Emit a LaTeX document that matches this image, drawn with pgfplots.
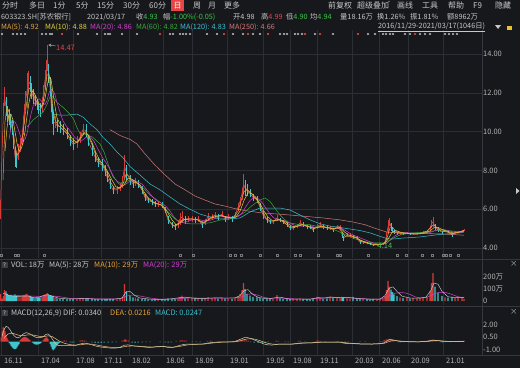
\documentclass[border=0pt]{standalone}
\usepackage{pgfplots}
\pgfplotsset{compat=1.18}
\usepackage{pgfplotstable}
\usepackage{fontspec}
\setmainfont{Noto Sans CJK SC}
\definecolor{bg}{HTML}{17181C}
\definecolor{gridc}{HTML}{2B2E34}
\definecolor{sepc}{HTML}{34373D}
\definecolor{txt}{HTML}{C8C8C8}
\definecolor{axtxt}{HTML}{B4B4B4}
\definecolor{upred}{HTML}{E84646}
\definecolor{dngreen}{HTML}{3CC84A}
\definecolor{cRed}{HTML}{D83A3A}
\definecolor{cCyan}{HTML}{3FC6CC}
\definecolor{ma5}{HTML}{E8A23A}
\definecolor{ma10}{HTML}{E2D03C}
\definecolor{ma20}{HTML}{D040D0}
\definecolor{ma60}{HTML}{3AA83A}
\definecolor{ma120}{HTML}{3CC0D0}
\definecolor{ma250}{HTML}{D27A7A}
\definecolor{qbg}{HTML}{3A3D44}

\pgfplotsset{
  upc/.style={restrict expr to domain={\thisrow{d}}{-0.5:0.5}},
  dnc/.style={restrict expr to domain={\thisrow{d}}{0.5:1.5}},
  panel/.style={scale only axis, width=482bp, xmin=0, xmax=482,
    axis line style={draw=none}, major tick length=0pt,
    xmajorgrids=true, ymajorgrids=false,
    major grid style={draw=gridc, line width=0.5bp},
    xtick={1,38,73,101,129,163,192,227,263,290,317,352,379,408,443},
    xticklabels={},
    yticklabel pos=right,
    yticklabel style={anchor=west, inner sep=0pt, xshift=1bp, text=axtxt},
    tick label style={font=\fontsize{7.5}{9}\selectfont},
    clip=true}
}

\pgfplotstableread{
x c r d v
0.5 6.0 0.5 0 60
1.5 8.0 0.2 0 20
2.5 9.6 0.2 0 20
3.5 11.2 0.3 0 40
4.5 11.8 0.5 0 90
6 11.3 0.5 1 80
7.5 10.9 0.4 1 60
9 10.75 0.4 1 50
10.5 10.5 0.4 1 45
12 10.2 0.4 1 40
13.5 9.5 0.4 1 45
15 8.7 0.5 1 55
16.5 8.5 0.4 1 45
18 8.95 0.4 0 35
20 9.3 0.35 0 30
22 9.7 0.4 0 35
23 10.3 0.5 0 45
24 10.9 0.5 0 50
25.5 11.6 0.5 0 55
27 12.1 0.9 0 60
28.5 12.6 0.5 0 45
30 12.45 0.4 1 40
31.5 12.1 0.4 1 35
33 11.8 0.4 1 30
35 11.6 0.3 1 25
37 11.4 0.3 1 25
38.5 11.2 0.3 1 25
40 11.1 0.35 1 30
42 11.4 0.4 0 35
43.5 12.0 0.4 0 45
45 12.65 0.5 0 55
46.5 13.2 0.5 0 60
47.5 13.8 0.67 0 65
48.5 13.0 0.5 1 55
50 12.3 0.5 1 50
51 11.5 0.5 1 45
52 10.9 0.5 1 40
53 10.4 0.6 1 40
55 10.5 0.3 0 25
57 10.3 0.3 1 22
60 10.25 0.3 1 20
63 10.1 0.3 1 18
67 9.9 0.3 1 17
70 9.55 0.3 1 16
73 9.36 0.3 1 17
77 9.45 0.3 0 18
80 9.7 0.3 0 20
83 10.1 0.3 0 25
86 10.06 0.35 1 22
88 9.55 0.3 1 18
92 9.05 0.3 1 16
95 8.7 0.25 1 15
98 8.4 0.25 1 15
102 8.27 0.3 1 14
105 8.0 0.3 1 15
107 7.66 0.25 1 16
110 7.3 0.25 1 18
113 7.0 0.2 1 15
117 7.0 0.2 0 14
120 7.15 0.2 0 18
122.5 7.4 0.3 0 30
124.5 8.2 0.6 0 140
126.5 7.9 0.4 1 80
130 7.5 0.25 1 40
133 7.3 0.2 1 30
135.5 7.4 0.2 0 28
138 7.3 0.2 1 22
142 7.0 0.2 1 18
145 6.6 0.2 1 16
148 6.45 0.15 1 14
152 6.37 0.15 1 13
155 6.27 0.15 1 12
158 6.27 0.15 0 12
162 6.2 0.15 1 13
165 5.95 0.15 1 15
168 5.44 0.2 1 22
172 5.2 0.15 1 18
175 5.1 0.15 1 15
178 5.25 0.2 0 20
180 5.5 0.3 0 35
182 5.6 0.3 0 45
185 5.44 0.2 1 28
188 5.5 0.15 0 25
192 5.5 0.15 0 25
195 5.44 0.15 1 20
198 5.5 0.15 0 20
202 5.2 0.15 1 18
205 5.34 0.15 0 22
208 5.6 0.2 0 32
212 5.6 0.15 0 25
215 5.7 0.15 0 25
218 5.6 0.15 1 20
222 5.75 0.15 0 28
225 5.5 0.15 1 22
228 5.6 0.15 0 22
232 5.5 0.15 1 20
235 5.7 0.15 0 25
238 6.1 0.2 0 40
240 6.4 0.25 0 60
242 6.8 0.3 0 90
243.5 7.3 0.5 0 150
245 7.1 0.4 1 100
247 7.0 0.3 1 60
250 6.83 0.2 1 45
253 6.6 0.2 1 35
257 6.5 0.2 1 30
260 6.1 0.2 1 25
263 5.7 0.2 1 22
267 5.44 0.15 1 20
270 5.34 0.12 1 16
273 5.34 0.12 0 15
277 5.55 0.15 0 50
280 5.44 0.12 1 25
283 5.34 0.12 1 18
287 5.2 0.12 1 15
290 5.03 0.12 1 15
293 5.03 0.1 0 13
297 5.13 0.1 0 15
300 5.29 0.15 0 22
303 5.2 0.12 1 18
307 5.1 0.1 1 15
310 5.08 0.1 1 14
313 4.93 0.1 1 15
317 5.1 0.12 0 35
320 5.2 0.12 0 28
323 5.1 0.1 1 20
327 5.03 0.1 1 22
330 5.03 0.1 0 38
333 4.93 0.1 1 28
337 5.1 0.1 0 25
340 5.1 0.1 0 28
342 4.67 0.15 1 35
343.5 4.5 0.12 1 30
347 4.67 0.12 0 22
350 4.67 0.1 0 20
353 4.57 0.1 1 35
357 4.5 0.1 1 20
360 4.3 0.1 1 18
363 4.3 0.08 0 15
367 4.26 0.07 1 15
370 4.2 0.07 1 14
373 4.15 0.06 1 15
377 4.16 0.05 0 14
380 4.18 0.05 0 15
383 4.22 0.06 0 20
385 4.3 0.1 0 40
386.5 4.6 0.2 0 90
388 5.1 0.35 0 168
389.5 5.35 0.2 0 120
391 5.1 0.2 1 95
392.5 4.95 0.15 1 75
394 4.82 0.1 1 55
397 4.77 0.08 1 40
400 4.77 0.08 0 30
403 4.72 0.06 1 25
407 4.77 0.07 0 30
410 4.72 0.06 1 22
413 4.72 0.06 0 25
417 4.72 0.06 0 22
420 4.77 0.06 0 25
423 4.82 0.07 0 30
427 4.87 0.08 0 35
430 5.03 0.12 0 80
431.5 5.25 0.2 0 150
433 5.34 0.25 0 233
435 5.1 0.15 1 120
438 4.93 0.1 1 70
442 4.82 0.08 1 40
445 4.87 0.07 0 30
448 4.82 0.07 1 28
452 4.67 0.1 1 35
455 4.82 0.07 0 25
458 4.82 0.06 0 30
462 4.87 0.06 0 28
464 4.93 0.05 0 18
}\pricetab

\newcommand{\T}[4]{\node[anchor=west,text=#3,inner sep=0pt] at (#1bp,-#2bp) {#4};}

\begin{document}
\fontsize{7.5}{9}\selectfont
\begin{tikzpicture}
\useasboundingbox (0bp,0bp) rectangle (520bp,-368bp);
\fill[bg] (0bp,0bp) rectangle (520bp,-368bp);

% ---------- main price panel ----------
\begin{axis}[panel, at={(0bp,-30bp)}, anchor=north west, height=228bp,
  ymin=3.485, ymax=15.237, ymajorgrids=true,
  ytick={4,6,8,10,12,14}, yticklabels={4.00,6.00,8.00,10.00,12.00,14.00}]
\addplot[cRed!80!white, line width=0.5bp, mark=none] table[x=x, y=c] {\pricetab};
\addplot[draw=cRed, line width=1bp, mark=none, upc, quiver={u=0, v=2*\thisrow{r}}] table[x=x, y expr=\thisrow{c}-\thisrow{r}] {\pricetab};
\addplot[draw=cCyan, line width=1bp, mark=none, dnc, quiver={u=0, v=2*\thisrow{r}}] table[x=x, y expr=\thisrow{c}-\thisrow{r}] {\pricetab};
% MA250
\addplot[ma250, line width=0.5bp, mark=none] coordinates {(110,10.1)(115,9.95)(120,9.8)(125,9.7)(130,9.6)(137,9.36)(145,8.85)(155,8.27)(165,7.77)(175,7.3)(185,7.0)(195,6.68)(205,6.47)(215,6.27)(225,6.16)(235,6.03)(245,5.93)(260,5.82)(290,5.7)(323,5.55)(340,5.45)(353,5.34)(365,5.2)(377,4.98)(387,4.82)(400,4.78)(410,4.77)(443,4.72)(464,4.66)};
% MA120
\addplot[ma120, line width=0.5bp, mark=none] coordinates {(53,10.9)(60,10.85)(67,10.85)(77,10.9)(83,10.75)(90,10.4)(97,10.1)(103,9.7)(110,9.36)(117,8.95)(123,8.65)(130,8.2)(140,7.76)(150,7.3)(160,7.0)(170,6.63)(180,6.27)(190,6.0)(200,5.75)(210,5.6)(220,5.5)(230,5.5)(240,5.55)(245,5.7)(250,5.86)(260,6.06)(280,6.06)(290,5.96)(300,5.7)(310,5.45)(320,5.25)(330,5.13)(340,5.06)(350,4.98)(360,4.9)(370,4.78)(380,4.6)(388,4.47)(395,4.47)(400,4.5)(420,4.57)(440,4.7)(460,4.78)(464,4.83)};
% MA60
\addplot[ma60, line width=0.5bp, mark=none] coordinates {(27,10.25)(30,10.4)(33,10.6)(38,10.8)(43,11.0)(47,11.4)(50,11.8)(53,11.8)(57,11.5)(63,11.25)(70,10.9)(74,10.6)(77,10.2)(80,9.9)(87,9.85)(93,9.7)(100,9.36)(104,8.95)(107,8.5)(110,8.05)(113,7.67)(117,7.45)(120,7.35)(125,7.4)(130,7.5)(135,7.4)(140,7.25)(145,7.0)(150,6.73)(155,6.55)(160,6.37)(165,6.05)(170,5.75)(175,5.5)(180,5.34)(185,5.28)(190,5.25)(200,5.25)(210,5.3)(220,5.44)(230,5.5)(240,5.7)(245,5.85)(250,6.1)(255,6.3)(260,6.47)(265,6.58)(270,6.4)(275,6.05)(280,5.7)(285,5.45)(290,5.29)(300,5.2)(310,5.2)(320,5.08)(330,5.03)(340,4.82)(345,4.7)(350,4.57)(355,4.47)(360,4.4)(365,4.33)(373,4.26)(383,4.26)(390,4.4)(395,4.55)(400,4.67)(410,4.77)(427,4.82)(440,4.93)(453,4.87)(464,4.82)};
% MA20
\addplot[ma20, line width=0.5bp, mark=none] coordinates {(9,9.6)(11,10.2)(13,10.5)(15,10.5)(17,10.3)(19,10.0)(21,9.7)(23,9.5)(25,9.6)(27,9.9)(29,10.4)(31,10.9)(33,11.3)(35,11.5)(37,11.6)(39,11.7)(41,11.6)(43,11.45)(45,11.4)(47,11.6)(49,12.0)(51,12.2)(53,12.1)(55,11.9)(57,11.5)(60,11.0)(63,10.55)(66,10.3)(70,10.05)(74,9.75)(78,9.55)(82,9.55)(86,9.7)(90,9.75)(94,9.5)(98,9.1)(102,8.7)(106,8.4)(110,8.05)(114,7.65)(118,7.35)(122,7.2)(126,7.3)(130,7.45)(134,7.5)(138,7.4)(142,7.3)(146,7.05)(150,6.8)(154,6.55)(158,6.4)(162,6.3)(166,6.15)(170,5.9)(174,5.6)(178,5.38)(182,5.32)(186,5.35)(190,5.42)(194,5.47)(198,5.47)(202,5.43)(206,5.4)(210,5.43)(214,5.5)(218,5.58)(222,5.62)(226,5.62)(230,5.6)(234,5.58)(238,5.62)(242,5.8)(246,6.15)(250,6.45)(254,6.6)(258,6.55)(262,6.35)(266,6.05)(270,5.75)(274,5.55)(278,5.45)(282,5.43)(286,5.38)(290,5.28)(294,5.18)(298,5.13)(302,5.13)(306,5.15)(310,5.13)(314,5.08)(318,5.06)(322,5.07)(326,5.07)(330,5.05)(334,5.03)(338,5.02)(342,5.0)(346,4.88)(350,4.75)(354,4.65)(358,4.57)(362,4.48)(366,4.4)(370,4.32)(374,4.25)(378,4.21)(382,4.2)(386,4.23)(390,4.4)(394,4.6)(398,4.72)(402,4.78)(406,4.79)(410,4.77)(415,4.75)(420,4.74)(425,4.75)(430,4.8)(435,4.9)(440,4.97)(444,4.95)(448,4.9)(452,4.84)(456,4.8)(460,4.8)(464,4.86)};
% MA10
\addplot[ma10, line width=0.5bp, mark=none] coordinates {(5,9.0)(7,10.2)(9,10.9)(11,10.9)(13,10.6)(15,10.0)(17,9.4)(19,9.0)(21,9.1)(23,9.4)(25,10.0)(27,10.8)(29,11.5)(31,12.0)(33,12.1)(35,11.9)(37,11.7)(39,11.45)(41,11.3)(43,11.35)(45,11.7)(47,12.3)(49,12.8)(51,12.7)(53,12.0)(55,11.3)(57,10.7)(60,10.4)(64,10.2)(68,9.95)(72,9.65)(76,9.45)(80,9.6)(84,9.9)(88,9.85)(92,9.45)(96,8.9)(100,8.5)(104,8.25)(108,7.9)(112,7.5)(116,7.15)(120,7.1)(124,7.25)(128,7.6)(132,7.55)(136,7.4)(140,7.25)(144,6.9)(148,6.6)(152,6.42)(156,6.3)(160,6.25)(164,6.1)(168,5.8)(172,5.45)(176,5.2)(180,5.3)(184,5.45)(188,5.48)(192,5.5)(196,5.48)(200,5.4)(204,5.33)(208,5.45)(212,5.55)(216,5.63)(220,5.66)(224,5.64)(228,5.58)(232,5.56)(236,5.6)(240,5.9)(244,6.45)(248,6.85)(252,6.8)(256,6.6)(260,6.3)(264,5.9)(268,5.6)(272,5.42)(276,5.42)(280,5.45)(284,5.4)(288,5.25)(292,5.12)(296,5.1)(300,5.17)(304,5.18)(308,5.12)(312,5.05)(316,5.04)(320,5.1)(324,5.1)(328,5.05)(332,5.0)(336,5.02)(340,5.05)(344,4.85)(348,4.68)(352,4.62)(356,4.55)(360,4.42)(364,4.33)(368,4.27)(372,4.21)(376,4.18)(380,4.18)(384,4.21)(388,4.45)(392,4.8)(396,4.9)(400,4.82)(405,4.77)(410,4.75)(415,4.73)(420,4.73)(425,4.78)(430,4.88)(434,5.05)(438,5.07)(442,4.95)(446,4.88)(450,4.82)(454,4.77)(458,4.8)(464,4.88)};
% MA5
\addplot[ma5, line width=0.5bp, mark=none] coordinates {(3,7.5)(5,10.5)(7,11.3)(9,11.0)(11,10.6)(13,10.1)(15,9.3)(17,8.8)(19,8.9)(21,9.3)(23,9.9)(25,10.8)(27,11.6)(29,12.2)(31,12.3)(33,12.0)(35,11.7)(37,11.5)(39,11.3)(41,11.2)(43,11.5)(45,12.1)(47,12.9)(49,13.0)(51,12.3)(53,11.2)(55,10.6)(58,10.35)(62,10.15)(66,9.95)(70,9.65)(74,9.4)(78,9.45)(82,9.85)(86,10.0)(89,9.7)(93,9.2)(97,8.6)(101,8.35)(105,8.1)(108,7.75)(111,7.35)(115,7.05)(119,7.05)(123,7.3)(126,7.8)(129,7.7)(133,7.4)(137,7.35)(141,7.1)(145,6.7)(149,6.5)(153,6.35)(157,6.28)(161,6.22)(164,6.05)(167,5.7)(170,5.35)(174,5.15)(178,5.2)(182,5.45)(186,5.5)(190,5.5)(194,5.47)(198,5.45)(202,5.3)(206,5.35)(210,5.55)(214,5.65)(218,5.65)(222,5.68)(226,5.58)(230,5.55)(234,5.6)(238,5.9)(241,6.4)(244,6.9)(247,7.0)(250,6.9)(254,6.65)(258,6.4)(262,5.95)(266,5.55)(270,5.38)(274,5.38)(278,5.48)(282,5.4)(286,5.25)(290,5.08)(294,5.05)(298,5.15)(302,5.22)(306,5.13)(310,5.07)(314,5.0)(318,5.08)(322,5.13)(326,5.06)(330,5.03)(334,4.98)(338,5.06)(342,4.85)(345,4.6)(349,4.62)(353,4.6)(357,4.5)(361,4.35)(365,4.28)(370,4.22)(375,4.17)(380,4.18)(384,4.24)(387,4.5)(390,5.05)(393,5.05)(396,4.85)(400,4.78)(405,4.75)(410,4.74)(415,4.72)(420,4.75)(424,4.8)(428,4.9)(431,5.1)(434,5.2)(437,5.05)(441,4.88)(445,4.85)(449,4.8)(453,4.73)(457,4.8)(461,4.85)(464,4.92)};
% info markers
\addplot[only marks, mark=asterisk, mark size=1.2bp, line width=0.4bp, color=axtxt] coordinates {(2,15.03)(13,15.03)(17,15.03)(21,15.03)(25,15.03)(42,15.03)(46,15.03)(50,15.03)(52,15.03)(78,15.03)(97,15.03)(105,15.03)(108,15.03)(110,15.03)(122,15.03)(137,15.03)(170,15.03)(173,15.03)(180,15.03)(183,15.03)(186,15.03)(190,15.03)(207,15.03)(217,15.03)(233,15.03)(243,15.03)(253,15.03)(260,15.03)(280,15.03)(284,15.03)(287,15.03)(295,15.03)(298,15.03)(302,15.03)(315,15.03)(333,15.03)(368,15.03)(375,15.03)(383,15.03)(386,15.03)(390,15.03)(393,15.03)(405,15.03)(410,15.03)(420,15.03)(425,15.03)(430,15.03)(445,15.03)(449,15.03)(453,15.03)(457,15.03)};
\addplot[only marks, mark=asterisk, mark size=1.2bp, line width=0.4bp, color=upred] coordinates {(62,15.03)(160,15.03)(224,15.03)(248,15.03)(268,15.03)(305,15.03)(320,15.03)(358,15.03)(415,15.03)};
\addplot[only marks, mark=square, mark size=0.9bp, line width=0.4bp, color=axtxt!60!bg] coordinates {(1,3.64)(15,3.64)(18,3.64)(44,3.64)(180,3.64)(193,3.64)(230,3.64)(235,3.64)(241,3.64)(260,3.64)(277,3.64)(295,3.64)(300,3.64)(318,3.64)(337,3.64)(340,3.64)(368,3.64)(397,3.64)(406,3.64)(422,3.64)(432,3.64)(443,3.64)(446,3.64)(450,3.64)(458,3.64)};
\draw[->, >=stealth, axtxt, line width=0.4bp] (axis cs:55.5,14.42) -- (axis cs:48.3,14.47);
\node[anchor=west, inner sep=0pt, text=upred] at (axis cs:56,14.31) {14.47};
\node[anchor=west, inner sep=0pt, text=dngreen] at (axis cs:377.5,4.12) {4.14};
\end{axis}

% ---------- volume panel ----------
\begin{axis}[panel, at={(0bp,-260bp)}, anchor=north west, height=45bp,
  ymin=-33.33, ymax=341.67, ytick={0,100,200}, yticklabels={0,100万,200万}]
\addplot[ybar, bar width=1.4, bar shift=0pt, fill=cRed, draw=none, upc] table[x=x, y=v] {\pricetab};
\addplot[ybar, bar width=1.4, bar shift=0pt, fill=cCyan, draw=none, dnc] table[x=x, y=v] {\pricetab};
\addplot[ma20, line width=0.5bp, mark=none] coordinates {(10,50)(20,45)(30,42)(40,38)(50,45)(60,35)(70,22)(80,20)(90,20)(100,17)(110,17)(120,18)(126,40)(132,50)(140,42)(150,25)(160,15)(170,15)(180,20)(190,27)(200,24)(210,23)(220,25)(230,25)(240,30)(246,55)(252,60)(258,48)(264,30)(270,22)(280,25)(290,20)(300,16)(310,16)(320,22)(330,27)(340,28)(350,26)(360,22)(370,16)(380,15)(386,30)(390,50)(395,65)(400,70)(405,68)(410,55)(415,35)(420,26)(426,28)(432,50)(436,65)(440,72)(446,70)(452,55)(458,35)(464,29)};
\addplot[txt, line width=0.45bp, mark=none] coordinates {(3,65)(8,50)(13,42)(18,38)(23,40)(28,42)(33,30)(38,28)(43,45)(48,52)(53,38)(58,25)(65,19)(75,18)(85,21)(95,16)(105,16)(115,16)(122,25)(126,75)(130,80)(135,45)(140,25)(150,15)(160,13)(170,17)(180,28)(185,32)(195,22)(205,22)(215,26)(225,25)(235,25)(240,45)(244,85)(248,95)(252,60)(258,30)(268,18)(276,28)(280,32)(290,15)(300,17)(310,15)(318,28)(324,25)(331,33)(340,27)(350,28)(358,20)(370,15)(380,16)(385,45)(389,105)(393,118)(397,80)(402,40)(410,25)(420,24)(426,32)(431,90)(434,150)(438,140)(442,80)(448,35)(456,28)(464,28)};
\end{axis}

% ---------- MACD panel ----------
\begin{axis}[panel, at={(0bp,-307bp)}, anchor=north west, height=48bp,
  ymin=-1.607, ymax=4.107, ytick={-1,0.5,2}, yticklabels={-1.00,0.50,2.00},
  xticklabels={16.11,17.04,17.08,17.11,18.02,18.06,18.09,19.01,19.05,19.08,19.11,20.03,20.06,20.09,21.01},
  xticklabel style={anchor=north west, xshift=0.5bp, text=axtxt}]
\addplot[ybar, bar width=1.0, bar shift=0pt, fill=cRed, draw=none] coordinates {(1,0.5)(2,1.2)(3,1.7)(4,1.6)(5,1.2)(6,0.8)(7,0.4)(8,0.15)(20,0.15)(21,0.3)(22,0.42)(23,0.5)(24,0.55)(25,0.55)(26,0.5)(27,0.45)(28,0.35)(29,0.25)(30,0.15)(43,0.15)(44,0.3)(45,0.42)(46,0.5)(47,0.45)(48,0.3)(62,0.08)(64,0.12)(66,0.1)(80,0.12)(82,0.15)(84,0.12)(86,0.08)(122,0.1)(124,0.2)(125,0.25)(126,0.2)(128,0.12)(176,0.08)(180,0.12)(182,0.15)(184,0.12)(186,0.1)(207,0.08)(210,0.1)(212,0.08)(236,0.1)(238,0.15)(240,0.2)(242,0.25)(244,0.22)(246,0.15)(248,0.1)(276,0.1)(278,0.08)(298,0.08)(300,0.1)(316,0.1)(318,0.12)(320,0.08)(336,0.06)(338,0.08)(380,0.05)(382,0.08)(384,0.15)(386,0.25)(388,0.3)(390,0.25)(392,0.15)(394,0.08)(422,0.06)(424,0.08)(428,0.12)(430,0.18)(432,0.22)(434,0.15)(436,0.08)(455,0.05)(458,0.06)(460,0.08)(462,0.08)(464,0.1)};
\addplot[ybar, bar width=1.0, bar shift=0pt, fill=cCyan, draw=none] coordinates {(9,-0.15)(10,-0.35)(11,-0.55)(12,-0.7)(13,-0.82)(14,-0.9)(15,-0.92)(16,-0.85)(17,-0.7)(18,-0.5)(19,-0.3)(32,-0.1)(33,-0.2)(34,-0.3)(35,-0.35)(36,-0.38)(37,-0.38)(38,-0.35)(39,-0.3)(40,-0.25)(41,-0.15)(50,-0.3)(51,-0.6)(52,-0.9)(53,-1.05)(54,-0.95)(55,-0.8)(56,-0.6)(57,-0.45)(58,-0.3)(59,-0.2)(60,-0.1)(70,-0.1)(72,-0.12)(74,-0.1)(92,-0.1)(95,-0.15)(98,-0.18)(101,-0.15)(104,-0.12)(108,-0.12)(112,-0.1)(116,-0.08)(132,-0.12)(135,-0.15)(138,-0.12)(142,-0.1)(146,-0.08)(150,-0.06)(160,-0.06)(165,-0.1)(168,-0.12)(171,-0.1)(192,-0.05)(196,-0.06)(200,-0.07)(218,-0.05)(250,-0.08)(254,-0.12)(258,-0.15)(262,-0.15)(265,-0.12)(268,-0.08)(285,-0.06)(288,-0.08)(305,-0.05)(325,-0.05)(342,-0.08)(345,-0.1)(348,-0.08)(360,-0.05)(365,-0.04)(398,-0.08)(400,-0.1)(403,-0.08)(410,-0.04)(440,-0.08)(442,-0.1)(445,-0.08)(450,-0.06)};
\addplot[ma5!70!white, line width=0.5bp, mark=none] coordinates {(4,0.4)(8,0.9)(12,1.0)(16,0.85)(20,0.7)(24,0.7)(28,0.8)(32,0.8)(36,0.7)(40,0.6)(44,0.58)(48,0.68)(52,0.6)(56,0.3)(60,0.0)(64,-0.2)(68,-0.32)(72,-0.4)(76,-0.42)(80,-0.4)(84,-0.33)(88,-0.3)(92,-0.32)(96,-0.4)(100,-0.5)(104,-0.58)(108,-0.65)(112,-0.7)(116,-0.73)(120,-0.72)(124,-0.62)(128,-0.55)(132,-0.53)(136,-0.54)(140,-0.57)(144,-0.6)(148,-0.64)(152,-0.66)(156,-0.65)(160,-0.62)(164,-0.61)(168,-0.64)(172,-0.67)(176,-0.65)(180,-0.57)(184,-0.48)(188,-0.4)(192,-0.36)(196,-0.33)(200,-0.32)(204,-0.3)(208,-0.25)(212,-0.19)(216,-0.14)(220,-0.1)(224,-0.07)(228,-0.06)(232,-0.05)(236,-0.02)(240,0.08)(244,0.22)(248,0.32)(252,0.33)(256,0.25)(260,0.1)(264,-0.08)(268,-0.22)(272,-0.3)(276,-0.33)(280,-0.32)(284,-0.31)(288,-0.31)(292,-0.31)(296,-0.28)(300,-0.23)(304,-0.19)(308,-0.17)(312,-0.16)(316,-0.13)(320,-0.09)(324,-0.07)(328,-0.07)(332,-0.07)(336,-0.07)(340,-0.07)(344,-0.12)(348,-0.18)(352,-0.21)(356,-0.24)(360,-0.27)(364,-0.28)(368,-0.29)(372,-0.3)(376,-0.29)(380,-0.27)(384,-0.22)(388,-0.05)(392,0.1)(396,0.1)(400,0.06)(404,0.02)(408,-0.01)(412,-0.02)(416,-0.03)(420,-0.03)(424,-0.02)(428,0.01)(432,0.08)(436,0.12)(440,0.09)(444,0.05)(448,0.02)(452,0.0)(456,-0.01)(460,0.01)(464,0.0216)};
\addplot[txt!90!yellow, line width=0.5bp, mark=none] coordinates {(2,0.6)(4,1.4)(6,1.8)(8,1.7)(10,1.4)(12,1.0)(14,0.7)(16,0.5)(18,0.45)(20,0.55)(22,0.75)(24,0.95)(26,1.05)(28,1.0)(30,0.9)(32,0.75)(34,0.6)(36,0.5)(38,0.45)(40,0.45)(42,0.5)(44,0.65)(46,0.85)(48,0.9)(50,0.7)(52,0.35)(54,0.0)(56,-0.3)(58,-0.45)(60,-0.5)(64,-0.45)(68,-0.45)(72,-0.5)(76,-0.45)(80,-0.3)(84,-0.2)(88,-0.25)(92,-0.4)(96,-0.55)(100,-0.65)(104,-0.7)(108,-0.75)(112,-0.8)(116,-0.78)(120,-0.7)(124,-0.45)(128,-0.4)(132,-0.5)(136,-0.55)(140,-0.6)(144,-0.65)(148,-0.7)(152,-0.68)(156,-0.62)(160,-0.58)(164,-0.6)(168,-0.7)(172,-0.72)(176,-0.6)(180,-0.45)(184,-0.35)(188,-0.3)(192,-0.3)(196,-0.3)(200,-0.32)(204,-0.28)(208,-0.18)(212,-0.12)(216,-0.08)(220,-0.05)(224,-0.04)(228,-0.05)(232,-0.04)(236,0.05)(240,0.25)(244,0.45)(248,0.45)(252,0.3)(256,0.1)(260,-0.1)(264,-0.3)(268,-0.4)(272,-0.42)(276,-0.35)(280,-0.3)(284,-0.3)(288,-0.32)(292,-0.3)(296,-0.25)(300,-0.18)(304,-0.15)(308,-0.15)(312,-0.15)(316,-0.1)(320,-0.06)(324,-0.06)(328,-0.08)(332,-0.08)(336,-0.06)(340,-0.08)(344,-0.2)(348,-0.25)(352,-0.25)(356,-0.27)(360,-0.3)(364,-0.3)(368,-0.3)(372,-0.3)(376,-0.28)(380,-0.25)(384,-0.15)(388,0.15)(390,0.25)(393,0.2)(396,0.1)(400,0.02)(404,-0.02)(408,-0.03)(412,-0.04)(416,-0.04)(420,-0.03)(424,0.0)(428,0.05)(432,0.15)(435,0.15)(438,0.1)(442,0.03)(446,0.0)(450,-0.02)(454,-0.02)(458,0.0)(462,0.02)(464,0.034)};
\end{axis}

% ---------- frame lines ----------
\draw[sepc, line width=0.6bp] (482bp,-30bp) -- (482bp,-355bp);
\draw[sepc, line width=0.6bp] (0bp,-259.5bp) -- (520bp,-259.5bp);
\draw[sepc, line width=0.6bp] (0bp,-306.5bp) -- (520bp,-306.5bp);
\draw[sepc, line width=0.6bp] (0bp,-355bp) -- (520bp,-355bp);

% ---------- top menu ----------
\begingroup\fontsize{8}{9}\selectfont
\T{2}{5.5}{txt}{分时}
\T{29}{5.5}{txt}{多日}
\T{53}{5.5}{txt}{1分}
\T{76}{5.5}{txt}{5分}
\T{97}{5.5}{txt}{15分}
\T{123}{5.5}{txt}{30分}
\T{149}{5.5}{txt}{60分}
\fill[upred] (171bp,-0.5bp) rectangle (184bp,-10.5bp);
\node[text=white, inner sep=0pt] at (177.5bp,-5.5bp) {日};
\T{193}{5.5}{txt}{周}
\T{208}{5.5}{txt}{月}
\T{224}{5.5}{txt}{更多}
\T{328}{5.5}{txt}{前复权}
\T{357}{5.5}{txt}{超级叠加}
\fill[upred] (389bp,-1.5bp) circle (0.8bp);
\T{397}{5.5}{txt}{画线}
\T{422}{5.5}{txt}{工具}
\T{448}{5.5}{txt}{帮助}
\T{473}{5.5}{txt}{F9}
\T{495}{5.5}{txt}{隐藏}
\endgroup

% ---------- quote row ----------
\begingroup\fontsize{7.3}{9}\selectfont
\T{1}{17}{txt}{603323.SH[苏农银行]}
\T{87}{17}{txt}{2021/03/17}
\T{136}{17}{txt}{收{\color{dngreen}4.93}}
\T{163}{17}{txt}{幅{\color{dngreen}-1.00\%(-0.05)}}
\T{233}{17}{txt}{开4.98}
\T{261}{17}{txt}{高{\color{upred}4.99}}
\T{286}{17}{txt}{低{\color{dngreen}4.90}}
\T{310}{17}{txt}{均{\color{dngreen}4.94}}
\T{340}{17}{txt}{量18.16万}
\T{377}{17}{txt}{换1.26\%}
\T{410}{17}{txt}{振1.81\%}
\T{447}{17}{txt}{额8962万}
% ---------- MA row ----------
\T{1}{27}{ma5}{MA(5): 4.92}
\T{45}{27}{ma10}{MA(10): 4.88}
\T{90}{27}{ma20}{MA(20): 4.86}
\T{136}{27}{ma60}{MA(60): 4.82}
\T{180}{27}{ma120}{MA(120): 4.83}
\T{229}{27}{ma250}{MA(250): 4.66}
\T{378}{27}{txt}{\underline{2016/11/29-2021/03/17(1046日)}}
\endgroup
\fill[txt] (495bp,-25bp) -- (501bp,-25bp) -- (498bp,-29bp) -- cycle;
\fill[ma10!80!orange] (507bp,-25.5bp) rectangle (512bp,-30bp);
\fill[txt] (516bp,-188bp) -- (519.5bp,-191bp) -- (516bp,-194bp) -- cycle;

% ---------- panel headers ----------
\node[fill=qbg, text=txt, inner sep=0.5bp, minimum size=6bp, font=\fontsize{6}{6}\selectfont] at (4.5bp,-265bp) {?};
\T{11}{265}{txt}{VOL: 18万}
\T{49}{265}{txt}{MA(5): 28万}
\T{94}{265}{ma5}{MA(10): 29万}
\T{143}{265}{ma20}{MA(20): 29万}
\T{510}{263.5}{axtxt}{×}
\node[fill=qbg, text=txt, inner sep=0.5bp, minimum size=6bp, font=\fontsize{6}{6}\selectfont] at (4.5bp,-313bp) {?};
\T{11}{313}{txt}{MACD(12,26,9) DIF: 0.0340}
\T{110}{313}{ma5}{DEA: 0.0216}
\T{155}{313}{ma120}{MACD: 0.0247}
\T{510}{311.5}{axtxt}{×}
\end{tikzpicture}
\end{document}
